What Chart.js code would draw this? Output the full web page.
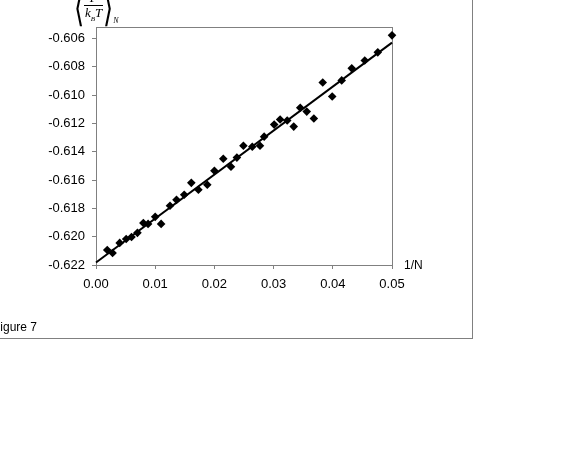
<!DOCTYPE html>
<html>
<head>
<meta charset="utf-8">
<script src="https://cdn.jsdelivr.net/npm/chart.js@4"></script>
<style>
  body { margin: 0; background: #fff; }
  #wrap { position: relative; width: 569px; height: 460px; overflow: hidden; font-family: "Liberation Sans", Arial, sans-serif; }
  #frame { position: absolute; left: -5px; top: -5px; width: 476px; height: 342px; border: 1px solid #808080; }
  canvas { position: absolute; left: 0; top: 0; }
  .lbl { position: absolute; font-size: 12px; color: #000; white-space: nowrap; }
  #ylab { position: absolute; left: 74px; top: -9px; font-family: "Liberation Serif", "Times New Roman", serif; color: #000; white-space: nowrap; }
  #ylab .br { display: inline-block; font-size: 26px; transform: scaleY(1.5); vertical-align: middle; }
  #ylab .frac { display: inline-block; vertical-align: middle; text-align: center; font-style: italic; font-size: 13px; line-height: 14px; }
  #ylab .den { border-top: 1px solid #000; padding: 0 1px; }
  #ylab sub { font-size: 7px; }
  #ylab .n { font-size: 8px; font-style: italic; vertical-align: -11px; }
</style>
</head>
<body>
<div id="wrap">
  <div id="frame"></div>
  <canvas id="chart" width="569" height="460"></canvas>
  <div id="ylab"><span class="br">&#10216;</span><span class="frac"><div>F</div><div class="den">k<sub>B</sub>T</div></span><span class="br">&#10217;</span><span class="n">N</span></div>
  <div class="lbl" style="left:404px; top:258px;">1/N</div>
  <div class="lbl" style="left:-7px; top:320px;">Figure 7</div>
</div>
<script>
// 1/N values and the measured quantity
const xValues = [
  0.0019, 0.0028, 0.0040, 0.0051, 0.0060, 0.0070, 0.0080, 0.0088, 0.0100, 0.0110,
  0.0125, 0.0136, 0.0149, 0.0161, 0.0173, 0.0188, 0.0200, 0.0215, 0.0228, 0.0238,
  0.0249, 0.0264, 0.0277, 0.0284, 0.0301, 0.0311, 0.0323, 0.0334, 0.0345, 0.0356,
  0.0368, 0.0383, 0.0399, 0.0415, 0.0432, 0.0454, 0.0476, 0.0500
];
const yValues = [
  -0.62094, -0.62115, -0.62044, -0.62016, -0.62002, -0.61973, -0.61903, -0.61910, -0.61860, -0.61910,
  -0.61782, -0.61740, -0.61704, -0.61620, -0.61669, -0.61634, -0.61535, -0.61450, -0.61506, -0.61442,
  -0.61358, -0.61365, -0.61358, -0.61294, -0.61209, -0.61173, -0.61180, -0.61223, -0.61090, -0.61117,
  -0.61166, -0.60912, -0.61011, -0.60897, -0.60812, -0.60756, -0.60699, -0.60579
];
// linear trend line end points
const fitX = [0, 0.05];
const fitY = [-0.62182, -0.60630];

const xTicks = [0, 0.01, 0.02, 0.03, 0.04, 0.05];
const yTicks = [-0.622, -0.620, -0.618, -0.616, -0.614, -0.612, -0.610, -0.608, -0.606];

const gray = "#808080";
const tickFont = { family: "'Liberation Sans', Arial, sans-serif", size: 13 };

const plotBorder = {
  id: "plotBorder",
  beforeDatasetsDraw(chart) {
    const a = chart.chartArea;
    const ctx = chart.ctx;
    ctx.save();
    ctx.strokeStyle = gray;
    ctx.lineWidth = 1;
    ctx.strokeRect(Math.round(a.left) + 0.5, Math.round(a.top) + 0.5, Math.round(a.width), Math.round(a.height));
    ctx.restore();
  }
};

new Chart(document.getElementById("chart").getContext("2d"), {
  type: "scatter",
  data: {
    datasets: [
      {
        type: "line",
        data: fitX.map((x, i) => ({ x: x, y: fitY[i] })),
        borderColor: "#000",
        borderWidth: 2,
        pointRadius: 0,
        fill: false,
        clip: false
      },
      {
        data: xValues.map((x, i) => ({ x: x, y: yValues[i] })),
        pointStyle: "rectRot",
        pointRadius: 4.3,
        backgroundColor: "#000",
        borderColor: "#000",
        borderWidth: 0,
        clip: false
      }
    ]
  },
  options: {
    responsive: false,
    animation: false,
    layout: { padding: { left: 0, top: 27, right: 177, bottom: 0 } },
    plugins: { legend: { display: false }, tooltip: { enabled: false } },
    scales: {
      x: {
        type: "linear",
        min: 0,
        max: 0.05,
        afterBuildTicks: s => { s.ticks = xTicks.map(v => ({ value: v })); },
        afterFit: s => { s.height = 195; },
        ticks: { callback: v => v.toFixed(2), font: tickFont, color: "#000", padding: 8, maxRotation: 0 },
        grid: { drawOnChartArea: false, tickLength: 4, color: gray },
        border: { color: gray }
      },
      y: {
        type: "linear",
        min: -0.622,
        max: -0.6052,
        afterBuildTicks: s => { s.ticks = yTicks.map(v => ({ value: v })); },
        afterFit: s => { s.width = 96; },
        ticks: { callback: v => v.toFixed(3), font: tickFont, color: "#000", padding: 7 },
        grid: { drawOnChartArea: false, tickLength: 4, color: gray },
        border: { color: gray }
      }
    }
  },
  plugins: [plotBorder]
});
</script>
</body>
</html>
